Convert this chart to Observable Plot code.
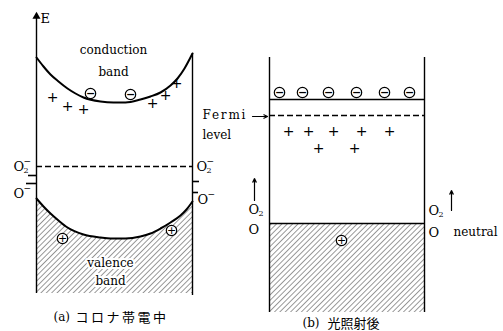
<!DOCTYPE html>
<html>
<head>
<meta charset="utf-8">
<script src="https://cdn.jsdelivr.net/npm/d3@7"></script>
<script src="https://cdn.jsdelivr.net/npm/@observablehq/plot@0.6"></script>
<style>
  html, body { margin: 0; padding: 0; background: #fff; }
  .spaced text { letter-spacing: 2.5px; }
  .fermi text { letter-spacing: 1.8px; }
</style>
</head>
<body>
<svg width="0" height="0" style="position:absolute">
  <defs>
    <pattern id="hatch" patternUnits="userSpaceOnUse" width="3.8" height="3.8" patternTransform="rotate(45)">
      <line x1="0" y1="0" x2="0" y2="3.8" stroke="#000" stroke-width="0.8"/>
    </pattern>
  </defs>
</svg>
<div id="chart"></div>
<script>
// ---- Panel (a): corona charging ----
const condA = [[36,57],[43,66],[50,74],[58,81],[67,88],[75,93],[83,97],[100,101],[113,102],[125,102],[140,99],[150,96],[160,92],[170,85],[177,78],[184,68],[192,53]];
const valA  = [[36,198],[43,206],[50,213],[58,220],[67,227],[83,234],[100,237],[110,238],[125,238],[140,236],[150,233],[160,228],[170,222],[180,215],[186,209],[192,201]];
const bottomA = 293;
const wallsA = [{x:36, y1:14, y2:293}, {x:192, y1:53, y2:295}];
const dashedA = [{x1:36, x2:192, y:166}];
const ticksA = [{x1:28, x2:36, y:175}, {x1:26, x2:36, y:183}, {x1:192, x2:199, y:181}, {x1:192, x2:198, y:192}];
const plusA = [[52,97],[67,106],[83,109],[152,103],[165,95],[176,83]];
const minusA = [[90,93],[130,94]];
const holesA = [[62,238],[171,230]];
const ionLabelsA = [
  {x:13, y:166, sub:"2", sup:"−"},
  {x:13, y:193, sub:"",  sup:"−"},
  {x:196, y:166, sub:"2", sup:"−"},
  {x:197, y:199, sub:"",  sup:"−"}
];
const textsA = [
  {x:113, y:50, t:"conduction"},
  {x:113, y:72, t:"band"}
];
const textsHaloA = [
  {x:110, y:263, t:"valence"},
  {x:110, y:281, t:"band"}
];

// ---- Panel (b): after illumination ----
const wallsB = [{x:269, y1:57, y2:312}, {x:424, y1:57, y2:312}];
const solidB = [{x1:269, x2:424, y:99}, {x1:269, x2:424, y:223}];
const dashedB = [{x1:269, x2:424, y:115}];
const hatchB = [{x1:269, x2:424, y1:223, y2:312}];
const minusB = [[279,92],[302,92],[328,92],[356,92],[384,92],[409,92]];
const plusB = [[288,131],[308,131],[333,131],[361,131],[389,131],[318,148],[354,148]];
const holesB = [[341,240]];
const ionLabelsB = [
  {x:248, y:209, sub:"2", sup:""},
  {x:248, y:229, sub:"",  sup:""},
  {x:428, y:210, sub:"2", sup:""},
  {x:428, y:232, sub:"",  sup:""}
];
const arrowsB = [
  {x1:254, y1:200, x2:254, y2:178},
  {x1:451, y1:210, x2:451, y2:190},
  {x1:252, y1:116, x2:267, y2:116}
];
const fermiText = [{x:202, y:115, t:"Fermi"}];
const textsB = [
  {x:202, y:135, t:"level"},
  {x:453, y:232, t:"neutral"}
];
const axisLabel = [{x:40, y:18, t:"E"}];
const axisHead = [[36,16]];
const captionTags = [{x:53, y:317, t:"(a)"}, {x:302, y:323, t:"(b)"}];
const captionA = [{x:75, y:317, t:"コロナ帯電中"}];
const captionB = [{x:327, y:323, t:"光照射後"}];

const serif = "'DejaVu Serif', 'Liberation Serif', serif";
const cjk = "'Noto Sans CJK JP', sans-serif";
const fs = 12;

const allIons = ionLabelsA.concat(ionLabelsB);
const xy = {x: d => d[0], y: d => d[1]};

const plot = Plot.plot({
  width: 503,
  height: 331,
  margin: 0,
  x: {domain: [0, 503], axis: null},
  y: {domain: [331, 0], axis: null},
  style: {background: "#fff", fontFamily: serif, color: "#000"},
  marks: [
    // hatched valence regions
    Plot.areaY(valA, {x: d => d[0], y1: d => d[1], y2: () => bottomA, curve: "monotone-x", fill: "url(#hatch)"}),
    Plot.rect(hatchB, {x1: "x1", x2: "x2", y1: "y1", y2: "y2", fill: "url(#hatch)"}),
    // band edges (a)
    Plot.line(condA, {...xy, curve: "monotone-x", stroke: "#000", strokeWidth: 2}),
    Plot.line(valA, {...xy, curve: "monotone-x", stroke: "#000", strokeWidth: 2}),
    // walls
    Plot.ruleX(wallsA, {x: "x", y1: "y1", y2: "y2", stroke: "#000", strokeWidth: 1.4}),
    Plot.ruleX(wallsB, {x: "x", y1: "y1", y2: "y2", stroke: "#000", strokeWidth: 1.4}),
    // levels
    Plot.ruleY(dashedA, {y: "y", x1: "x1", x2: "x2", stroke: "#000", strokeWidth: 1.3, strokeDasharray: "6,3"}),
    Plot.ruleY(dashedB, {y: "y", x1: "x1", x2: "x2", stroke: "#000", strokeWidth: 1.3, strokeDasharray: "6,3"}),
    Plot.ruleY(solidB, {y: "y", x1: "x1", x2: "x2", stroke: "#000", strokeWidth: 1.6}),
    Plot.ruleY(ticksA, {y: "y", x1: "x1", x2: "x2", stroke: "#000", strokeWidth: 1.6}),
    // axis arrow head
    Plot.dot(axisHead, {...xy, symbol: "triangle", r: 3, fill: "#000", stroke: "none"}),
    // arrows
    Plot.arrow(arrowsB, {x1: "x1", y1: "y1", x2: "x2", y2: "y2", stroke: "#000", strokeWidth: 1.2, headLength: 5, headAngle: 50}),
    // electrons
    Plot.dot(minusA.concat(minusB), {...xy, r: 5.2, stroke: "#000", fill: "#fff", strokeWidth: 1.2}),
    Plot.text(minusA.concat(minusB), {...xy, text: () => "−", fontSize: 11, fontFamily: "'DejaVu Sans', sans-serif", fontWeight: "bold"}),
    // holes
    Plot.dot(holesA.concat(holesB), {...xy, r: 5.2, stroke: "#000", fill: "#fff", strokeWidth: 1.2}),
    Plot.text(holesA.concat(holesB), {...xy, text: () => "+", fontSize: 11, fontFamily: "'DejaVu Sans', sans-serif"}),
    // positive charges
    Plot.text(plusA.concat(plusB), {...xy, text: () => "+", fontSize: 14, fontFamily: "'DejaVu Sans', sans-serif"}),
    // text labels
    Plot.text(textsA, {x: "x", y: "y", text: "t", fontSize: fs}),
    Plot.text(textsHaloA, {x: "x", y: "y", text: "t", fontSize: fs, stroke: "#fff", strokeWidth: 4, fill: "#000"}),
    Plot.text(fermiText, {x: "x", y: "y", text: "t", fontSize: fs, textAnchor: "start", className: "fermi"}),
    Plot.text(textsB, {x: "x", y: "y", text: "t", fontSize: fs, textAnchor: "start"}),
    Plot.text(axisLabel, {x: "x", y: "y", text: "t", fontSize: 13, textAnchor: "start"}),
    // ion labels: O, subscript, superscript
    Plot.text(allIons, {x: "x", y: "y", text: () => "O", fontSize: 13, textAnchor: "start"}),
    Plot.text(allIons, {x: "x", y: "y", text: "sub", fontSize: 8, textAnchor: "start", dx: 10, dy: 4}),
    Plot.text(allIons, {x: "x", y: "y", text: "sup", fontSize: 9, textAnchor: "start", dx: 10, dy: -5}),
    // captions
    Plot.text(captionTags, {x: "x", y: "y", text: "t", fontSize: 12, textAnchor: "start"}),
    Plot.text(captionA, {x: "x", y: "y", text: "t", fontSize: 13, textAnchor: "start", fontFamily: cjk, className: "spaced"}),
    Plot.text(captionB, {x: "x", y: "y", text: "t", fontSize: 13, textAnchor: "start", fontFamily: cjk})
  ]
});
document.getElementById("chart").appendChild(plot);
</script>
</body>
</html>
